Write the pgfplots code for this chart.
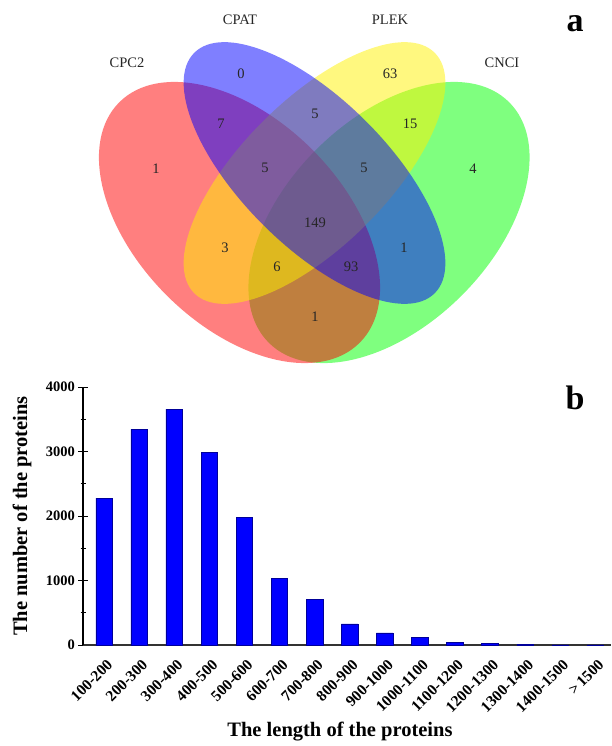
\documentclass[border=0pt]{standalone}
\usepackage{fontspec}
\setmainfont{Liberation Serif}
\usepackage{pgfplots}
\pgfplotsset{compat=1.18}
\begin{document}
\begin{tikzpicture}
\path[use as bounding box] (0pt,0pt) rectangle (611pt,-746pt);
% ---------------- panel a: Venn diagram ----------------
\begin{axis}[
  at={(0pt,0pt)}, anchor=north west, scale only axis,
  width=611pt, height=370pt, xmin=0, xmax=611, ymin=-370, ymax=0,
  hide axis, clip=false]
 \fill[green, fill opacity=0.5, rotate around={45:(axis cs:389,-222.5)}]
   (axis cs:389,-222.5) ellipse [x radius=170pt, y radius=103pt];
 \fill[red, fill opacity=0.5, rotate around={-45:(axis cs:239.5,-222.5)}]
   (axis cs:239.5,-222.5) ellipse [x radius=170pt, y radius=103pt];
 \fill[yellow, fill opacity=0.5, rotate around={45:(axis cs:314.5,-173)}]
   (axis cs:314.5,-173) ellipse [x radius=170pt, y radius=73pt];
 \fill[blue, fill opacity=0.5, rotate around={-45:(axis cs:314.5,-173)}]
   (axis cs:314.5,-173) ellipse [x radius=170pt, y radius=73pt];
 \begin{scope}[every node/.style={font=\fontsize{14.5}{16}\selectfont, text=black!85}]
 \node at (axis cs:127,-63) {CPC2};
 \node at (axis cs:240,-20) {CPAT};
 \node at (axis cs:390,-20) {PLEK};
 \node at (axis cs:502,-63) {CNCI};
 \node at (axis cs:241,-74) {0};
 \node at (axis cs:390,-74) {63};
 \node at (axis cs:221,-124) {7};
 \node at (axis cs:315,-114) {5};
 \node at (axis cs:410,-124) {15};
 \node at (axis cs:156,-169) {1};
 \node at (axis cs:265,-168) {5};
 \node at (axis cs:364,-168) {5};
 \node at (axis cs:473,-169) {4};
 \node at (axis cs:315,-223) {149};
 \node at (axis cs:225,-248) {3};
 \node at (axis cs:404,-248) {1};
 \node at (axis cs:277,-267) {6};
 \node at (axis cs:351,-267) {93};
 \node at (axis cs:315,-317) {1};
 \end{scope}
 \node[font=\bfseries\fontsize{34}{36}\selectfont] at (axis cs:575,-24) {a};
\end{axis}
% ---------------- panel b: bar chart ----------------
\begin{axis}[
  at={(83pt,-645pt)}, anchor=south west, scale only axis,
  width=528pt, height=258pt,
  xmin=-0.6, xmax=14.45, ymin=0, ymax=4000,
  axis x line*=bottom, axis y line*=left,
  x axis line style={black!80, line width=1.6pt},
  y axis line style={black, line width=1.3pt},
  ybar, bar width=16.5pt,
  xtick=data,
  xticklabels={100-200,200-300,300-400,400-500,500-600,600-700,700-800,800-900,900-1000,1000-1100,1100-1200,1200-1300,1300-1400,1400-1500,{>\,1500}},
  x tick style={draw=none},
  xticklabel style={xshift=2pt, yshift=-4pt, rotate=45, anchor=north east, font=\bfseries\fontsize{15.5}{17}\selectfont},
  ytick={0,1000,2000,3000,4000}, minor y tick num=1,
  y tick style={black, line width=1pt},
  tick align=center, major tick length=9pt, minor tick length=5pt,
  yticklabel style={font=\bfseries\fontsize{14.5}{16}\selectfont},
  /pgf/number format/assume math mode=true,
  /pgf/number format/1000 sep={},
  scaled y ticks=false,
  ylabel={The number of the proteins},
  ylabel style={at={(axis description cs:-0.1155,0.5)}, anchor=center, font=\bfseries\fontsize{20.5}{22}\selectfont},
  xlabel={The length of the proteins},
  xlabel style={at={(axis description cs:0.4867,-0.337)}, anchor=center, font=\bfseries\fontsize{20.5}{22}\selectfont},
  clip=false]
\addplot[fill=blue, draw=blue!60!black, line width=0.5pt] coordinates {
 (0,2278) (1,3342) (2,3656) (3,2982) (4,1974) (5,1038) (6,710) (7,329)
 (8,190) (9,113) (10,41) (11,31) (12,15) (13,4) (14,3)};
\node[font=\bfseries\fontsize{34}{36}\selectfont] at (axis description cs:0.932,0.958) {b};
\end{axis}
\end{tikzpicture}
\end{document}
